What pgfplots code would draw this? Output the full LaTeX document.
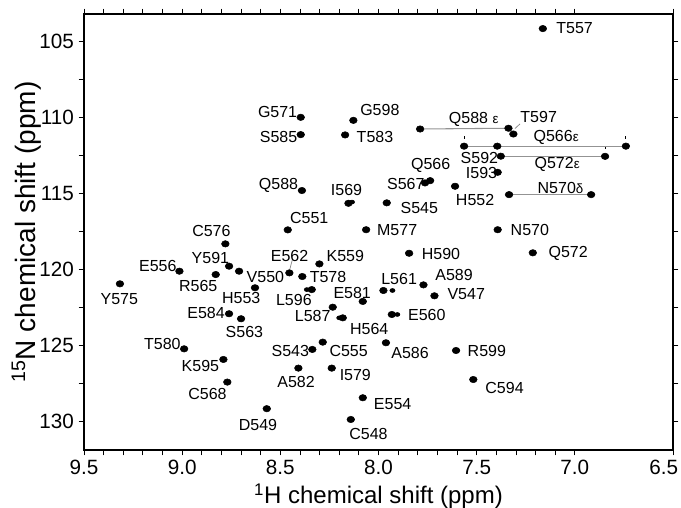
\documentclass[border=0pt]{standalone}
\usepackage{fontspec}
\setmainfont{Liberation Sans}
\usepackage{pgfplots}
\pgfplotsset{compat=1.18}
\newcommand\eps{{\fontsize{10}{12}\selectfont ε}}
\newcommand\dlt{{\fontsize{10}{12}\selectfont δ}}
\begin{document}
\begin{tikzpicture}
\begin{axis}[
  scale only axis,
  width=441.75pt, height=327pt,
  x dir=reverse, y dir=reverse,
  xmin=6.5, xmax=9.5,
  ymin=103.2, ymax=131.9,
  xtick={7,7.5,...,9.5},
  extra x ticks={6.5},
  extra x tick style={xticklabel style={xshift=-7pt}},
  ytick={105,110,...,130},
  minor x tick num=4,
  minor y tick num=1,
  tick align=outside,
  major tick length=4pt,
  minor tick length=4pt,
  x tick style={black, line width=0.6pt},
  y tick style={black, line width=0.6pt},
  axis line style={line width=0.8pt},
  /pgf/number format/assume math mode=true,
  xticklabel style={/pgf/number format/fixed, /pgf/number format/fixed zerofill, /pgf/number format/precision=1},
  yticklabel style={/pgf/number format/fixed, /pgf/number format/precision=0},
  tick label style={font=\fontsize{15.5}{18}\selectfont},
  xlabel={\textsuperscript{1}H chemical shift (ppm)},
  ylabel={\textsuperscript{15}N chemical shift (ppm)},
  xlabel style={font=\fontsize{18}{21}\selectfont, yshift=8pt},
  ylabel style={font=\fontsize{21}{24}\selectfont, yshift=-8pt},
  clip=false,
]
% side-chain connecting lines
\addplot[gray!85, line width=0.8pt] coordinates {(7.788,110.77) (7.338,110.72)};
\addplot[gray!85, line width=0.8pt] coordinates {(7.564,111.90) (6.740,111.90)};
\addplot[gray!85, line width=0.8pt] coordinates {(7.377,112.57) (6.846,112.57)};
\addplot[gray!85, line width=0.8pt] coordinates {(7.335,115.09) (6.917,115.09)};
% small ticks above side-chain peaks
\addplot[black, line width=0.6pt] coordinates {(7.564,111.25) (7.564,111.45)};
\addplot[black, line width=0.6pt] coordinates {(6.740,111.25) (6.740,111.45)};
\addplot[black, line width=0.6pt] coordinates {(6.846,111.95) (6.846,112.10)};
% leader lines
\addplot[gray, line width=0.5pt] coordinates {(7.279,110.43) (7.305,110.74)};
\addplot[gray, line width=0.5pt] coordinates {(8.439,119.38) (8.452,120.02)};
% peaks
\addplot[only marks, mark=*, mark size=2.3pt, mark options={fill=black, draw=black, xscale=1.25, yscale=1.05}] coordinates {
  (7.163,104.16) (8.396,110.00) (8.128,110.20) (8.396,111.14) (8.170,111.16)
  (7.788,110.77) (7.338,110.72) (7.313,111.10)
  (7.564,111.90) (7.395,111.90) (6.740,111.90)
  (7.377,112.56) (6.846,112.57) (7.393,113.62)
  (7.737,114.17) (7.763,114.32) (7.610,114.54) (8.390,114.82)
  (7.335,115.09) (6.917,115.09) (8.153,115.66) (7.958,115.63)
  (8.462,117.41) (8.063,117.40) (7.393,117.40) (8.780,118.33)
  (7.844,118.95) (7.214,118.92) (8.301,119.65) (8.761,119.80)
  (9.014,120.13) (8.710,120.13) (8.454,120.24) (8.829,120.35)
  (8.388,120.48) (9.317,120.96) (7.771,121.03) (8.629,121.22)
  (8.340,121.34) (7.975,121.40) (7.715,121.75) (8.080,122.12)
  (8.233,122.50) (8.761,122.93) (7.932,122.98) (8.182,123.20)
  (8.700,123.26) (8.284,124.80) (7.962,124.84) (8.990,125.24)
  (8.337,125.28) (7.605,125.35) (8.790,125.94) (7.517,127.26)
  (8.408,126.51) (8.238,126.51) (8.770,127.43) (8.080,128.46)
  (8.569,129.18) (8.141,129.89)
};
\addplot[only marks, mark=*, mark size=1.5pt, mark options={fill=black, draw=black, xscale=1.3}] coordinates {
  (8.135,115.58) (7.929,121.40) (7.904,122.98) (8.365,121.34) (8.200,123.20)
};
% labels
\addplot[draw=none, mark=none, point meta=explicit symbolic, nodes near coords,
  every node near coord/.append style={anchor=center, inner sep=0pt, font=\fontsize{12}{14}\selectfont}]
  coordinates {
  (7.001,104.12) [T557]
  (8.514,109.63) [G571]
  (7.993,109.51) [G598]
  (7.515,110.11) [Q588 \eps]
  (7.184,110.00) [T597]
  (8.509,111.32) [S585]
  (8.018,111.32) [T583]
  (7.095,111.32) [Q566\eps]
  (7.486,112.67) [S592]
  (7.090,113.11) [Q572\eps]
  (7.734,113.18) [Q566]
  (7.475,113.66) [I593]
  (7.861,114.38) [S567]
  (8.509,114.49) [Q588]
  (8.163,114.76) [I569]
  (7.073,114.65) [N570\dlt]
  (7.508,115.43) [H552]
  (7.792,115.96) [S545]
  (8.353,116.62) [C551]
  (7.905,117.41) [M577]
  (7.229,117.41) [N570]
  (8.851,117.50) [C576]
  (8.453,119.10) [E562]
  (8.169,119.14) [K559]
  (7.682,118.99) [H590]
  (7.034,118.99) [Q572]
  (9.124,119.76) [E556]
  (8.856,119.28) [Y591]
  (8.576,120.48) [V550]
  (8.257,120.48) [T578]
  (7.615,120.35) [A589]
  (7.895,120.63) [L561]
  (8.918,121.12) [R565]
  (9.320,121.95) [Y575]
  (8.699,121.88) [H553]
  (8.431,122.01) [L596]
  (8.134,121.55) [E581]
  (7.553,121.66) [V547]
  (8.878,122.87) [E584]
  (8.335,123.11) [L587]
  (7.754,122.98) [E560]
  (8.047,123.92) [H564]
  (8.683,124.14) [S563]
  (9.101,124.91) [T580]
  (8.449,125.39) [S543]
  (8.152,125.39) [C555]
  (7.839,125.53) [A586]
  (7.448,125.35) [R599]
  (8.907,126.40) [K595]
  (8.118,126.99) [I579]
  (8.420,127.43) [A582]
  (7.358,127.80) [C594]
  (8.871,128.24) [C568]
  (7.928,128.90) [E554]
  (8.614,130.24) [D549]
  (8.051,130.83) [C548]
};
\end{axis}
\pgfresetboundingbox
\path ([xshift=-63pt, yshift=-42.75pt]current axis.south west) rectangle ([xshift=6pt, yshift=10.5pt]current axis.north east);
\end{tikzpicture}
\end{document}
